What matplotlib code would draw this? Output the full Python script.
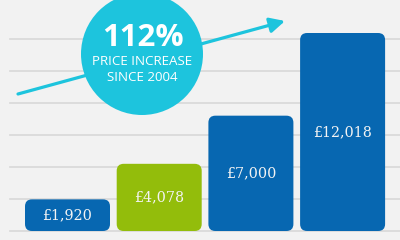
import numpy as np
import matplotlib
matplotlib.use("Agg")
import matplotlib.pyplot as plt
from matplotlib.patches import FancyBboxPatch, Circle

#--------data--------
values = [1920, 4078, 7000, 12018]
labels = ["£1,920", "£4,078", "£7,000", "£12,018"]
bar_colors = ["#0767b1", "#93bd0b", "#0767b1", "#0767b1"]
headline = "112%"
subline = "PRICE INCREASE\nSINCE 2004"
#--------config--------
bg = "#f2f2f2"
cyan = "#1dc4dd"
W, H = 400, 240

fig = plt.figure(figsize=(W / 100, H / 100), dpi=100)
fig.patch.set_facecolor(bg)
ax = fig.add_axes([0, 0, 1, 1])
ax.set_facecolor(bg)

# scale: 12018 -> 198 px, baseline 9 px above bottom
upp = max(values) / 198.0
step_px = 91.7
ax.set_xlim(-67.5 / step_px, (W - 67.5) / step_px)
ax.set_ylim(-9 * upp, (H - 9) * upp)
for s in ax.spines.values():
  s.set_visible(False)
ax.set_xticks([])
ax.set_yticks([])

for k in range(7):
  ax.axhline(k * 32 * upp, xmin=10 / W, xmax=1, color="#d8d8d8", lw=1.2, zorder=1)

width = 85 / step_px
bars = ax.bar(range(len(values)), values, width=width, color=bar_colors)
aspect = upp * step_px
for rect, c, lab in zip(bars, bar_colors, labels):
  x, y = rect.get_x(), rect.get_y()
  w, h = rect.get_width(), rect.get_height()
  rect.set_visible(False)
  p = FancyBboxPatch((x, y), w, h, boxstyle="round,pad=0,rounding_size=%f" % (7 / step_px),
                     mutation_aspect=aspect, fc=c, ec="none", zorder=2)
  ax.add_patch(p)
  ax.text(x + w / 2, y + h / 2, lab, ha="center", va="center", color="#f4f4f4",
          fontsize=10.3, family="DejaVu Serif", zorder=3)

# overlay in pixel coordinates for the callout
ov = fig.add_axes([0, 0, 1, 1])
ov.set_xlim(0, W)
ov.set_ylim(H, 0)
ov.axis("off")
ov.patch.set_alpha(0)
ov.annotate("", xy=(285, 21), xytext=(18, 94),
            arrowprops=dict(arrowstyle="-|>,head_length=0.9,head_width=0.45", color=cyan, lw=2.3,
                            shrinkA=0, shrinkB=0), zorder=4)
ov.add_patch(Circle((142, 54), 61, fc=cyan, ec="none", zorder=5))
ov.text(142.5, 37.5, headline, ha="center", va="center", color="white", fontsize=22.5,
        fontweight="bold", family="Open Sans", zorder=6)
ov.text(142, 69.5, subline, ha="center", va="center", color="white", fontsize=9.6,
        family="Open Sans", linespacing=1.3, zorder=6)

fig.savefig("out.png", dpi=100, facecolor=bg)
